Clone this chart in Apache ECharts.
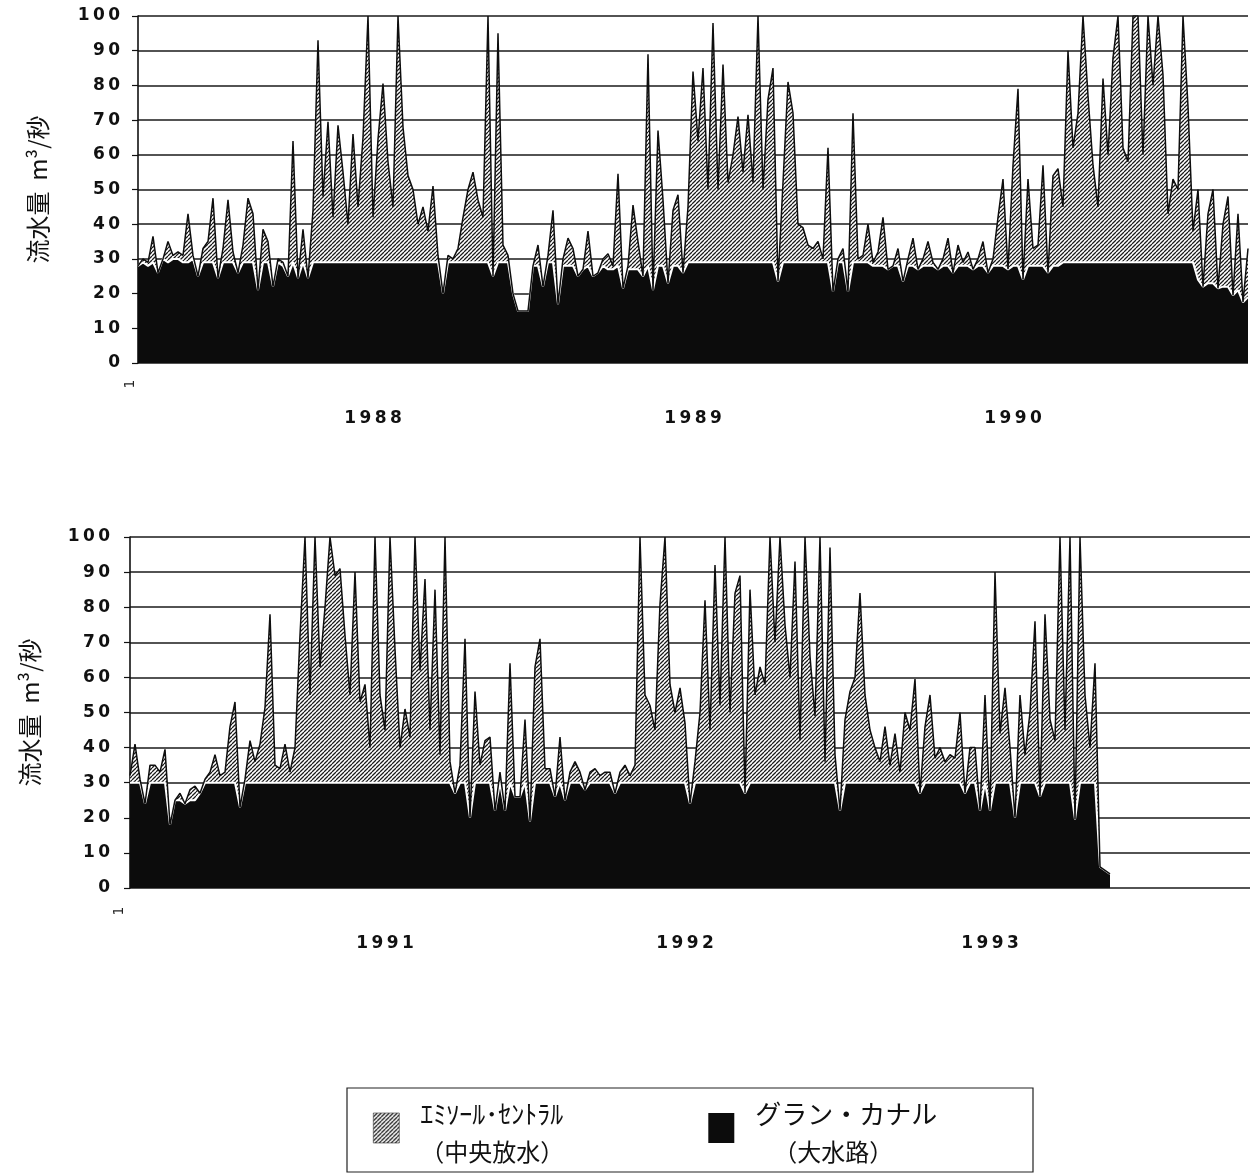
<!DOCTYPE html>
<html>
<head>
<meta charset="utf-8">
<style>
  html, body { margin: 0; padding: 0; background: #fff; }
  #chart { width: 1260px; height: 1175px; }
</style>
<script src="https://cdn.jsdelivr.net/npm/echarts@6/dist/echarts.min.js"></script>
</head>
<body>
<div id="chart"></div>
<script>
// Daily discharge (m3/s), sampled along each three-year panel.
// Grand Canal flow (bottom layer) and Émissaire Central flow (stacked on top).

// ---- 1988 – 1990 ----
const canalTop = [
  28, 29, 28, 29, 26, 30, 29, 30, 30, 29,
  29, 30, 25, 29, 29, 29, 24.5, 29, 29, 29,
  26, 29, 29, 29, 21, 29, 29, 22, 29, 28,
  25, 29, 24.5, 29, 24.5, 29, 29, 29, 29, 29,
  29, 29, 29, 29, 29, 29, 29, 29, 29, 29,
  29, 29, 29, 29, 29, 29, 29, 29, 29, 29,
  29, 20, 29, 29, 29, 29, 29, 29, 29, 29,
  29, 25, 29, 29, 29, 20, 15, 15, 15, 28,
  28, 22, 29, 29, 17, 28, 28, 28, 25, 27,
  28, 25, 26, 28, 27, 27, 28, 21.5, 27, 27,
  27, 25, 28, 21, 28, 28, 23, 28, 28, 26,
  29, 29, 29, 29, 29, 29, 29, 29, 29, 29,
  29, 29, 29, 29, 29, 29, 29, 29, 23.5, 29,
  29, 29, 29, 29, 29, 29, 29, 29, 29, 20.5,
  29, 29, 20.5, 29, 29, 29, 29, 28, 28, 28,
  27, 28, 28, 23.5, 28, 28, 27, 28, 28, 28,
  27, 28, 28, 26, 28, 28, 28, 27, 28, 28,
  26, 28, 28, 28, 27, 28, 28, 24, 28, 28,
  28, 28, 26, 28, 28, 29, 29, 29, 29, 29,
  29, 29, 29, 29, 29, 29, 29, 29, 29, 29,
  29, 29, 29, 29, 29, 29, 29, 29, 29, 29,
  29, 29, 24, 22, 23, 23, 21.5, 22, 22, 19.5,
  21, 17.5, 19
];
const emissaireTop = [
  0, 1, 1, 7.5, 0, 0, 6, 1, 2, 2,
  14, 1, 0, 4, 6, 18.5, 0, 4, 18, 3,
  0, 5, 18.5, 14, 0, 9.5, 6, 0, 1, 1,
  0, 35, 0, 9.5, 0, 15, 64, 19, 40.5, 13,
  39.5, 26, 11, 37, 16, 36, 71, 13, 35.5, 51.5,
  29, 16, 71, 39, 25, 21, 11, 16, 9, 22,
  2, 0, 2, 1, 4, 13, 21, 26, 18, 13,
  71, 0, 66, 5, 2, 0, 0, 0, 0, 0,
  6, 0, 2, 15, 0, 2, 8, 5, 0, 0,
  10, 0, 0, 2, 4.5, 1, 26.5, 0, 1, 18.5,
  8, 0, 61, 0, 39, 19, 0, 16, 20.5, 0,
  16, 55, 35, 56, 21, 69, 21, 57, 23, 31,
  42, 26, 42.5, 23, 71, 21, 47, 56, 0, 23,
  52, 43, 11, 10, 5, 4, 6, 1, 33, 0,
  1, 4, 0, 43, 1, 2, 11, 1, 4, 14,
  0, 0, 5, 0, 2, 8, 0, 2, 7, 1,
  0, 2, 8, 0, 6, 1, 4, 0, 2, 7,
  0, 2, 14, 25, 0, 29, 51, 0, 25, 5,
  6, 29, 0, 26, 28, 16, 61, 33, 43, 71,
  48, 28, 16, 53, 31, 59, 71, 33, 29, 71,
  71, 31, 71, 51, 71, 54, 14, 24, 21, 71,
  45, 9, 26, 0, 20, 27, 0, 18, 26, 0,
  22, 0, 14
];

// ---- 1991 – 1993 (record stops part-way through 1993) ----
const canalBottom = [
  30, 30, 30, 24, 30, 30, 30, 30, 18, 25,
  25, 24, 25, 25, 27, 30, 30, 30, 30, 30,
  30, 30, 23, 30, 30, 30, 30, 30, 30, 30,
  30, 30, 30, 30, 30, 30, 30, 30, 30, 30,
  30, 30, 30, 30, 30, 30, 30, 30, 30, 30,
  30, 30, 30, 30, 30, 30, 30, 30, 30, 30,
  30, 30, 30, 30, 30, 27, 30, 30, 20, 30,
  30, 30, 30, 22, 30, 22, 30, 26, 26, 30,
  19, 30, 30, 30, 30, 26, 30, 25, 30, 30,
  30, 28, 30, 30, 30, 30, 30, 27, 30, 30,
  30, 30, 30, 30, 30, 30, 30, 30, 30, 30,
  30, 30, 24, 30, 30, 30, 30, 30, 30, 30,
  30, 30, 30, 27, 30, 30, 30, 30, 30, 30,
  30, 30, 30, 30, 30, 30, 30, 30, 30, 30,
  30, 30, 22, 30, 30, 30, 30, 30, 30, 30,
  30, 30, 30, 30, 30, 30, 30, 30, 27, 30,
  30, 30, 30, 30, 30, 30, 30, 27, 30, 30,
  22, 30, 22, 30, 30, 30, 30, 20, 30, 30,
  30, 30, 26, 30, 30, 30, 30, 30, 30, 19.5,
  30, 30, 30, 30, 6, 5, 4, null, null, null,
  null, null, null, null, null, null, null, null, null, null,
  null, null, null, null, null, null, null, null, null, null,
  null, null, null, null, null
];
const emissaireBottom = [
  2, 11, 1, 0, 5, 5, 3, 9.5, 0, 0,
  2, 0, 3, 4, 0, 1, 3, 8, 2, 3,
  16, 23, 0, 1, 12, 6, 11, 21.5, 48, 5,
  4, 11, 3, 10, 42, 70, 25, 70, 33, 50,
  70, 59, 61, 42, 25, 60, 23, 28, 10, 70,
  25, 15, 70, 38, 10, 21, 13, 70, 32, 58,
  15, 55, 8, 70, 6, 0, 5, 41, 0, 26,
  5, 12, 13, 0, 3, 0, 34, 0, 0, 18,
  0, 33, 41, 4, 4, 0, 13, 0, 3, 6,
  3, 0, 3, 4, 2, 3, 3, 0, 3, 5,
  2, 5, 70, 25, 22, 15, 51, 70, 28, 20,
  27, 17, 0, 6, 20, 52, 15, 62, 22, 70,
  20, 54, 59, 0, 55, 25, 33, 28, 70, 40,
  70, 45, 30, 63, 12, 70, 36, 19, 70, 6,
  67, 8, 0, 18, 26, 30, 54, 25, 15, 10,
  6, 16, 5, 14, 3, 20, 15, 29.5, 0, 16,
  25, 7, 10, 6, 8, 7, 20, 0, 10, 10,
  0, 25, 0, 60, 14, 27, 10, 0, 25, 8,
  20, 46, 0, 48, 18, 12, 70, 15, 70, 0,
  70, 25, 10, 34, 0, 0, 0, null, null, null,
  null, null, null, null, null, null, null, null, null, null,
  null, null, null, null, null, null, null, null, null, null,
  null, null, null, null, null
];

// Year captions and the sample index they sit under
const yearsTop = ['1988', '1989', '1990'];
const yearsTopAt = [47, 111, 175];
const yearsBottom = ['1991', '1992', '1993'];
const yearsBottomAt = [51, 111, 172];

const NAME_EC = 'ｴﾐｿｰﾙ･ｾﾝﾄﾗﾙ';
const NAME_EC_SUB = '（中央放水）';
const NAME_GC = 'グラン・カナル';
const NAME_GC_SUB = '（大水路）';
const AXIS_NAME = '流水量  m³/秒';

// Diagonal "////" hatch used for the Émissaire Central layer
function makeHatch(size, color, width) {
  const c = document.createElement('canvas');
  c.width = size; c.height = size;
  const g = c.getContext('2d');
  g.fillStyle = '#ffffff';
  g.fillRect(0, 0, size, size);
  g.strokeStyle = color;
  g.lineWidth = width;
  g.beginPath();
  for (let k = -1; k <= 1; k++) {
    g.moveTo(k * size, size);
    g.lineTo(k * size + size, 0);
  }
  g.stroke();
  return c;
}
const hatch = { image: makeHatch(4, '#1a1a1a', 1.25), repeat: 'repeat' };

const spaced = s => String(s).split('').join('\u2009');
const numFont = { fontFamily: 'DejaVu Sans', fontWeight: 'bold', fontSize: 17, color: '#111' };
const jpFont = 'Noto Sans CJK JP';

function xAxisFor(gridIndex, n, years, at) {
  return {
    type: 'category', gridIndex,
    data: Array.from({ length: n }, (_, i) => String(i)),
    boundaryGap: false,
    axisLine: { show: false }, axisTick: { show: false }, splitLine: { show: false },
    axisLabel: Object.assign({
      interval: (i) => at.indexOf(i) >= 0,
      formatter: (v) => { const k = at.indexOf(Number(v)); return k >= 0 ? spaced(years[k]) : ''; },
      margin: 47
    }, numFont)
  };
}

function yAxisFor(gridIndex, margin) {
  return {
    type: 'value', gridIndex, min: 0, max: 100, interval: 10,
    axisLine: { show: true, lineStyle: { color: '#111', width: 1.6 } },
    axisTick: { show: true, length: 6, lineStyle: { color: '#111', width: 1.2 } },
    axisLabel: Object.assign({ margin, formatter: v => spaced(v) }, numFont),
    splitLine: { show: true, lineStyle: { color: '#1a1a1a', width: 1.5 } },
    name: AXIS_NAME, nameLocation: 'middle', nameRotate: 90, nameGap: 88,
    nameTextStyle: { fontFamily: jpFont, fontSize: 24, color: '#111' }
  };
}

function seriesFor(axisIndex, canal, emissaire) {
  const common = {
    type: 'line', xAxisIndex: axisIndex, yAxisIndex: axisIndex,
    stack: 'flow' + axisIndex, symbol: 'none', smooth: false, silent: true
  };
  return [
    Object.assign({}, common, {
      name: NAME_GC, data: canal,
      lineStyle: { color: '#ffffff', width: 2 },
      areaStyle: { color: '#0c0c0c', opacity: 1 }
    }),
    Object.assign({}, common, {
      name: NAME_EC, data: emissaire,
      lineStyle: { color: '#0e0e0e', width: 1.5 },
      areaStyle: { color: hatch, opacity: 1 }
    })
  ];
}

const chart = echarts.init(document.getElementById('chart'), null, { renderer: 'canvas' });
chart.setOption({
  backgroundColor: '#ffffff',
  animation: false,
  grid: [
    { left: 138, right: 12, top: 16, height: 347 },
    { left: 130, right: 10, top: 537, height: 351 }
  ],
  xAxis: [
    xAxisFor(0, canalTop.length, yearsTop, yearsTopAt),
    xAxisFor(1, canalBottom.length, yearsBottom, yearsBottomAt)
  ],
  yAxis: [yAxisFor(0, 18), yAxisFor(1, 20)],
  legend: {
    left: 368, top: 1096,
    orient: 'horizontal',
    itemWidth: 26, itemHeight: 30, itemGap: 144,
    selectedMode: false,
    data: [
      { name: NAME_EC, icon: 'rect', itemStyle: { color: hatch, borderColor: '#333', borderWidth: 0.6 } },
      { name: NAME_GC, icon: 'rect', itemStyle: { color: '#0c0c0c' } }
    ],
    formatter: name => name === NAME_EC
      ? '{a|' + NAME_EC + '}\n{b|' + NAME_EC_SUB + '}'
      : '{c|' + NAME_GC + '}\n{d|' + NAME_GC_SUB + '}',
    textStyle: {
      padding: [10, 0, 0, 16],
      fontFamily: jpFont, color: '#111',
      rich: {
        a: { fontFamily: jpFont, fontSize: 26, lineHeight: 38, color: '#111' },
        b: { fontFamily: jpFont, fontSize: 24, lineHeight: 38, color: '#111' },
        c: { fontFamily: jpFont, fontSize: 26, lineHeight: 38, color: '#111' },
        d: { fontFamily: jpFont, fontSize: 24, lineHeight: 38, color: '#111', padding: [0, 0, 0, 18] }
      }
    }
  },
  graphic: [
    { type: 'rect', shape: { x: 347, y: 1088, width: 686, height: 84 },
      style: { fill: 'none', stroke: '#222', lineWidth: 1.2 } },
    { type: 'text', x: 130, y: 384, rotation: Math.PI / 2,
      style: { text: '1', fontSize: 14, fontFamily: 'DejaVu Sans', fill: '#222', align: 'center', verticalAlign: 'middle' } },
    { type: 'text', x: 119, y: 911, rotation: Math.PI / 2,
      style: { text: '1', fontSize: 14, fontFamily: 'DejaVu Sans', fill: '#222', align: 'center', verticalAlign: 'middle' } }
  ],
  series: seriesFor(0, canalTop, emissaireTop).concat(seriesFor(1, canalBottom, emissaireBottom))
});
</script>
</body>
</html>
